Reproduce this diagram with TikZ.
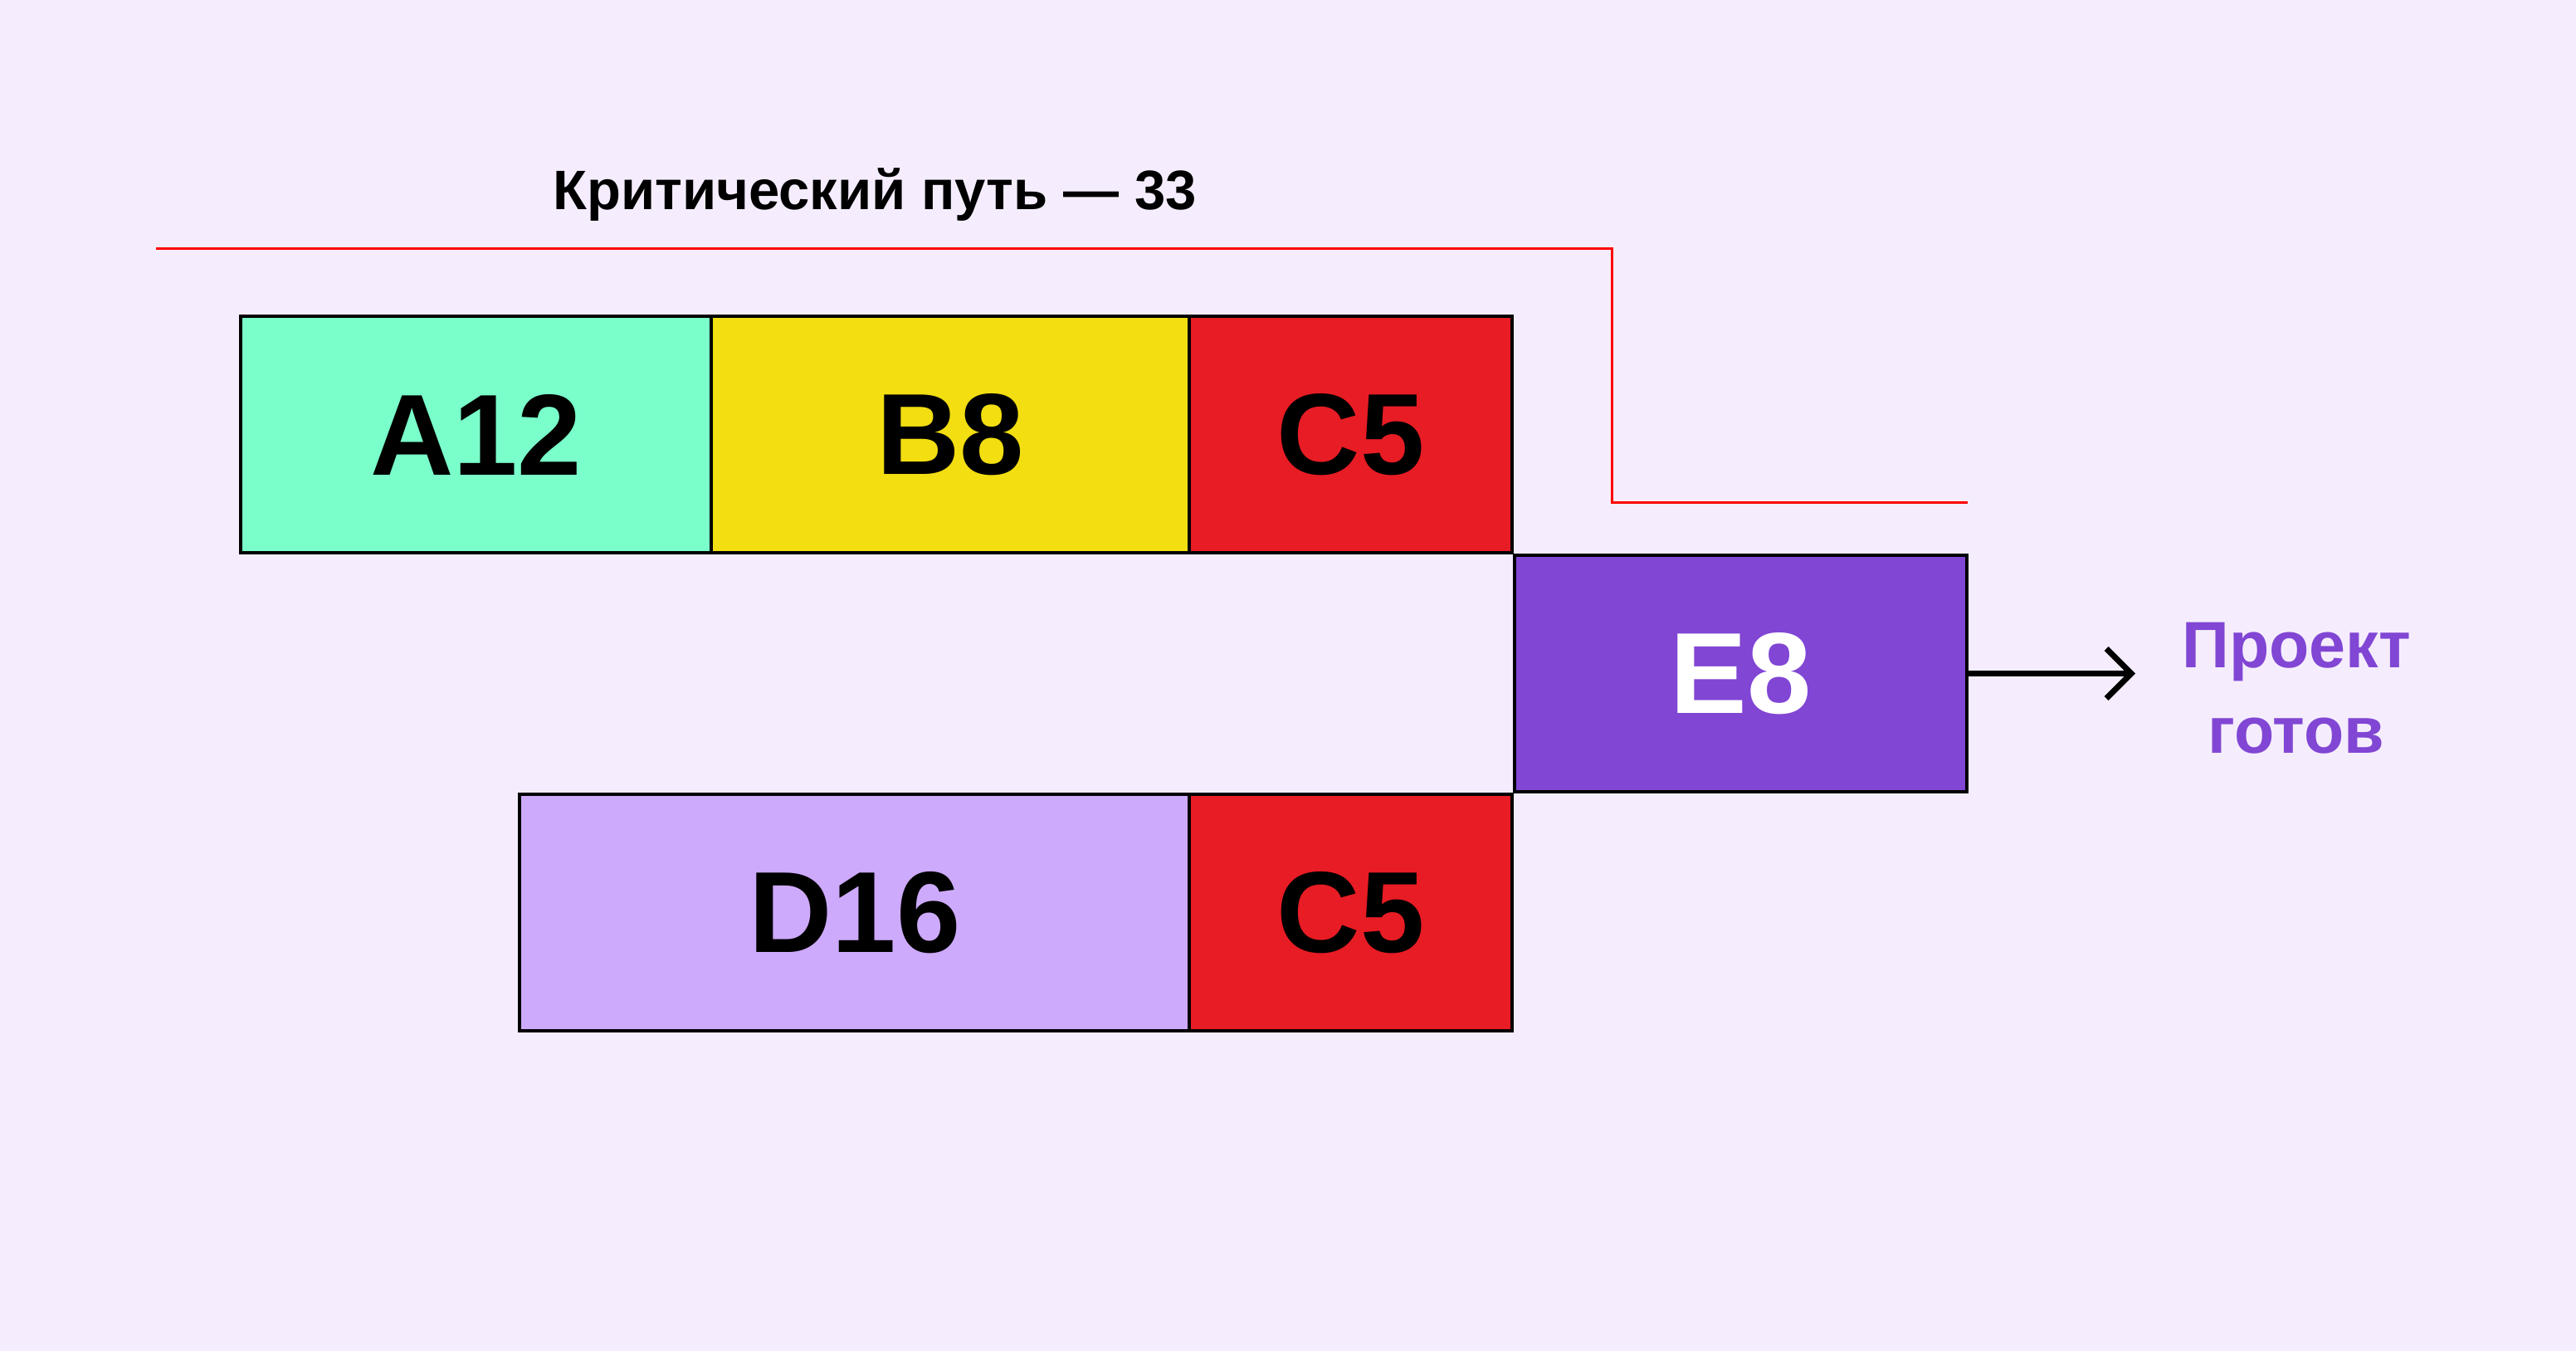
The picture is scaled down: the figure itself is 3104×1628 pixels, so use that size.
\documentclass[tikz,border=0pt]{standalone}
\usepackage{fontspec}
\setmainfont{Liberation Sans}
\usetikzlibrary{arrows.meta}
\definecolor{bgc}{HTML}{F5EDFD}
\definecolor{cgreen}{HTML}{7AFFCA}
\definecolor{cyellow}{HTML}{F2DE11}
\definecolor{cred}{HTML}{E81C24}
\definecolor{clilac}{HTML}{CEAAFC}
\definecolor{cpurple}{HTML}{8146D4}
\definecolor{pathred}{HTML}{FF0000}
\tikzset{
  task/.style={draw=black, line width=4pt, rectangle, inner sep=0pt, minimum height=285pt,
    font=\fontsize{139}{150}\selectfont\bfseries, text=black},
  crit/.style={draw=pathred, line width=3pt},
  flow/.style={draw=black, line width=7pt, -{Straight Barb[length=30pt, width=60pt, line width=7pt]}},
  lbl/.style={font=\fontsize{79}{103}\selectfont\bfseries, text=cpurple, inner sep=0pt, anchor=base},
}
\begin{document}
\begin{tikzpicture}[x=1pt,y=-1pt]
\fill[bgc] (0,0) rectangle (3104,1628);
\useasboundingbox (0,0) rectangle (3104,1628);
\node[font=\fontsize{67}{70}\selectfont\bfseries, anchor=base, inner sep=0pt] (title) at (1054,252) {Критический путь — 33};
\node[task, fill=cgreen, minimum width=567pt] (a) at (573.5,523.5) {A12};
\node[task, fill=cyellow, minimum width=576pt] (b) at (1145,523.5) {B8};
\node[task, fill=cred, minimum width=389pt] (c1) at (1627.5,523.5) {C5};
\node[task, fill=clilac, minimum width=808pt] (d) at (1030,1099.5) {D16};
\node[task, fill=cred, minimum width=389pt] (c2) at (1627.5,1099.5) {C5};
\node[task, fill=cpurple, minimum width=545pt, text=white] (e) at (2097.5,811.5) {E8};
\coordinate (r1) at (188,299);
\coordinate (r2) at (1942,299);
\coordinate (r3) at (1942,605);
\coordinate (r4) at (2371,605);
\draw[crit] (r1) -- (r2) -- (r3) -- (r4);
\coordinate (done) at (2573,811.5);
\draw[flow] (e.east) -- (done);
\node[lbl] (p1) at (2767,804) {Проект};
\node[lbl] (p2) at (2767,907) {готов};
\end{tikzpicture}
\end{document}
